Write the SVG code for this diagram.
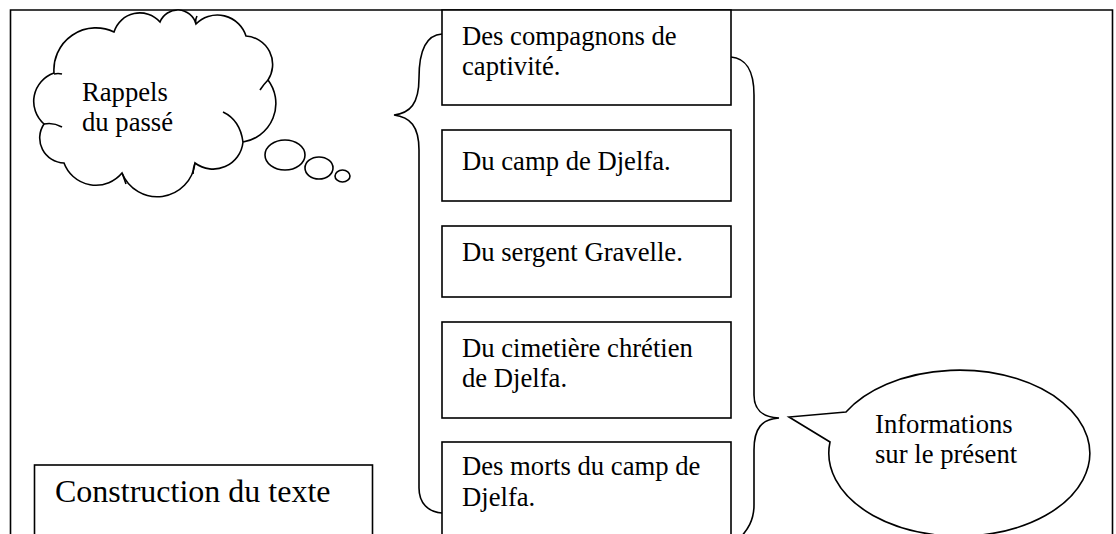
<svg xmlns="http://www.w3.org/2000/svg" width="1116" height="534" viewBox="0 0 1116 534">
<style>
.ln{fill:none;stroke:#000;stroke-width:1.6}
.bx{fill:#fff;stroke:#000;stroke-width:1.6}
.t{font-family:"Liberation Serif","Times New Roman",serif;font-size:26.67px;fill:#000}
.big{font-size:32px}
</style>
<rect x="0" y="0" width="1116" height="534" fill="#fff"/>
<g id="frame">
<path class="ln" d="M10.5,540 L10.5,10 L1112.5,10 L1112.5,540"/>
</g>
<g id="cloud">
<path class="bx" d="M54,73 A42 42 0 0 1 114,32 A27 27 0 0 1 160,22 A19 19 0 0 1 196,24 A30 30 0 0 1 246,36 A28.5 28.5 0 0 1 268,80 A39 39 0 0 1 243,142 A30 30 0 0 1 195,163 A38 38 0 0 1 122,173 A34 34 0 0 1 64,163 A25 25 0 0 1 44,124 A30 30 0 0 1 54,73 Z"/>
<path class="ln" d="M223,112 Q240,120 243,142 M44,124 Q53,122 62,127 M54,74 Q58,73 62,74 M196,24 Q195,20 197,16 M268,80 Q264,84 260,90 M122,173 Q124,178 126,184 M195,163 Q193,168 193,174"/>
<ellipse class="bx" cx="285" cy="155" rx="20" ry="15"/>
<ellipse class="bx" cx="319" cy="168" rx="14" ry="11"/>
<ellipse class="bx" cx="342.5" cy="176" rx="7.5" ry="6"/>
<text class="t" x="82" y="101">Rappels</text>
<text class="t" x="82" y="131">du passé</text>
</g>
<g id="box1">
<rect class="bx" x="442" y="10" width="289" height="95"/>
<text class="t" x="462" y="45">Des compagnons de</text>
<text class="t" x="462" y="75">captivité.</text>
</g>
<g id="box2">
<rect class="bx" x="442" y="130" width="289" height="71"/>
<text class="t" x="462" y="170">Du camp de Djelfa.</text>
</g>
<g id="box3">
<rect class="bx" x="442" y="226" width="289" height="71"/>
<text class="t" x="462" y="261">Du sergent Gravelle.</text>
</g>
<g id="box4">
<rect class="bx" x="442" y="322" width="289" height="96"/>
<text class="t" x="462" y="357">Du cimetière chrétien</text>
<text class="t" x="462" y="387">de Djelfa.</text>
</g>
<g id="box5">
<rect class="bx" x="442" y="442" width="289" height="120"/>
<text class="t" x="462" y="475">Des morts du camp de</text>
<text class="t" x="462" y="506">Djelfa.</text>
</g>
<g id="construction">
<rect class="bx" x="34.5" y="465" width="338" height="100"/>
<text class="t big" x="55" y="502">Construction du texte</text>
</g>
<g id="connectors">
<path class="ln" d="M442,34 C425,35 419,52 419,78 C419,104 410,113 394,115 C410,117 419,126 419,150 L419,488 C419,503 428,512 442,513"/>
<path class="ln" d="M731,57 C745,58 754,70 754,95 L754,395 C754,410 762,417 779,418 C762,419 754,428 754,450 L754,505 C754,520 748,530 738,540"/>
</g>
<g id="informations">
<path class="bx" d="M846,412 L789,417 L830,442 A130.5 83 0 1 0 846,412 Z"/>
<text class="t" x="875" y="433">Informations</text>
<text class="t" x="875" y="463">sur le présent</text>
</g>
</svg>
